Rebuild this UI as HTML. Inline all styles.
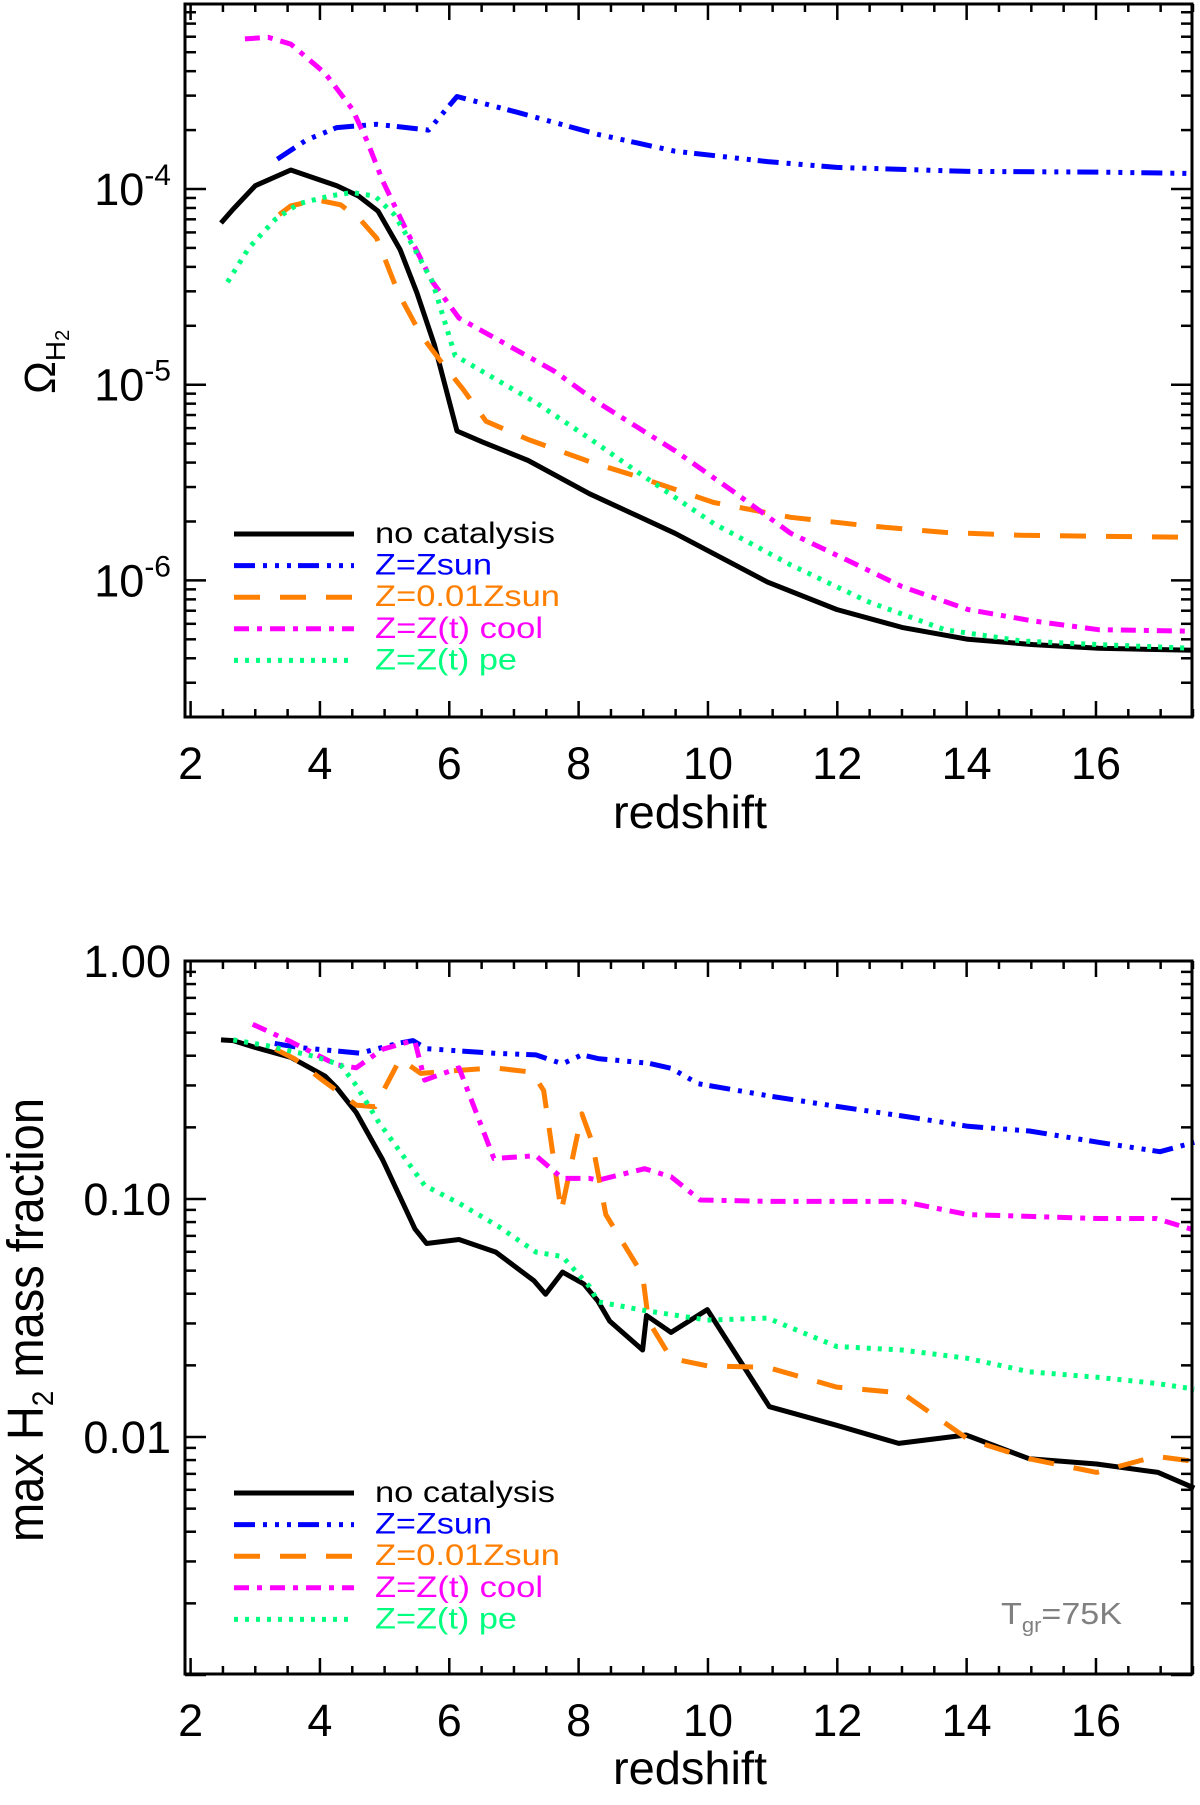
<!DOCTYPE html>
<html><head><meta charset="utf-8"><style>
html,body{margin:0;padding:0;background:#fff;}
svg{display:block;font-family:"Liberation Sans",sans-serif;}
</style></head><body>
<svg id="fig" width="1200" height="1805" viewBox="0 0 1200 1805" xmlns="http://www.w3.org/2000/svg">
<g id="top"></g>
<g id="bot"></g>
<text transform="translate(55,394) rotate(-90)" font-size="44">Ω<tspan font-size="28" dy="10">H</tspan><tspan font-size="20" dy="4">2</tspan></text>
<text transform="translate(43,1542) rotate(-90)" font-size="51" textLength="444" lengthAdjust="spacingAndGlyphs">max H<tspan font-size="30" dy="10">2</tspan><tspan dy="-10"> mass fraction</tspan></text>
<text x="690" y="828" font-size="46" text-anchor="middle" textLength="154" lengthAdjust="spacingAndGlyphs">redshift</text>
<text x="690" y="1784" font-size="46" text-anchor="middle" textLength="154" lengthAdjust="spacingAndGlyphs">redshift</text>
<text x="1001" y="1624" font-size="31" fill="#808080" textLength="121" lengthAdjust="spacingAndGlyphs">T<tspan font-size="20" dy="8">gr</tspan><tspan dy="-8">=75K</tspan></text>
</svg>
<script>
// ---- top panel data (Omega_H2 vs redshift) ----
const topNoCatZ = [2.47,2.66,3.0,3.55,4.26,4.6,4.9,5.24,5.5,5.77,6.12,6.51,7.22,8.17,9.49,10.92,11.99,13.0,14.02,15.03,16.04,17.5];
const topNoCatV = [6.7e-5,7.9e-5,1.04e-4,1.25e-4,1.04e-4,9.2e-5,7.7e-5,4.9e-5,2.95e-5,1.6e-5,5.8e-6,5.1e-6,4.1e-6,2.77e-6,1.74e-6,9.8e-7,7.1e-7,5.75e-7,5.0e-7,4.7e-7,4.5e-7,4.4e-7];
const topSunZ = [3.34,3.79,4.26,4.88,5.68,6.12,7.04,8.30,9.49,10.92,11.99,13.0,14.02,16.04,17.5];
const topSunV = [1.42e-4,1.78e-4,2.06e-4,2.14e-4,2.0e-4,2.97e-4,2.47e-4,1.9e-4,1.56e-4,1.38e-4,1.29e-4,1.26e-4,1.23e-4,1.22e-4,1.2e-4];
const topLowZ = [3.37,3.55,3.96,4.32,4.62,4.88,5.21,5.56,5.86,6.21,6.57,7.22,8.21,8.9,10.09,11.28,12.47,13.66,14.85,16.04,17.5];
const topLowV = [7.4e-5,8.2e-5,8.8e-5,8.3e-5,7.0e-5,5.6e-5,2.95e-5,1.8e-5,1.33e-5,9.5e-6,6.5e-6,5.25e-6,4.0e-6,3.4e-6,2.5e-6,2.1e-6,1.9e-6,1.76e-6,1.7e-6,1.68e-6,1.66e-6];
const topCoolZ = [2.84,3.2,3.55,4.08,4.5,4.73,4.97,5.33,5.74,6.15,6.75,7.63,8.30,9.49,10.39,11.28,12.11,13.0,14.02,15.03,16.04,17.5];
const topCoolV = [5.85e-4,5.96e-4,5.5e-4,3.9e-4,2.56e-4,1.76e-4,1.1e-4,6.2e-5,3.35e-5,2.19e-5,1.7e-5,1.17e-5,8.1e-6,4.6e-6,2.85e-6,1.74e-6,1.29e-6,9.3e-7,7.1e-7,6.2e-7,5.6e-7,5.5e-7];
const topPeZ = [2.57,2.9,3.31,3.67,4.14,4.5,4.85,5.15,5.44,5.74,6.09,6.51,7.34,8.21,8.9,10.09,11.28,12.47,13.66,14.85,16.04,17.5];
const topPeV = [3.34e-5,5.0e-5,7.0e-5,8.4e-5,9.2e-5,9.6e-5,9.2e-5,7.4e-5,5.1e-5,3.35e-5,1.41e-5,1.17e-5,8.1e-6,5.2e-6,3.6e-6,1.95e-6,1.2e-6,7.8e-7,5.6e-7,4.9e-7,4.7e-7,4.5e-7];
// ---- bottom panel data (max H2 mass fraction) ----
const botNoCatZ = [2.47,2.66,3.0,3.55,4.08,4.26,4.56,4.97,5.47,5.65,6.15,6.72,7.31,7.49,7.75,8.08,8.30,8.48,8.99,9.05,9.43,9.99,10.95,11.99,12.95,13.99,14.97,16.01,16.96,17.52];
const botNoCatV = [0.466,0.463,0.433,0.394,0.328,0.293,0.231,0.146,0.0748,0.065,0.0676,0.0598,0.0453,0.0398,0.0493,0.044,0.0372,0.0307,0.0232,0.0324,0.0275,0.0343,0.0134,0.0112,0.0094,0.0102,0.0081,0.0077,0.0071,0.0061];
const botSunZ = [3.3,3.67,3.96,4.62,5.21,5.44,5.65,6.69,7.34,7.75,8.05,8.30,9.08,9.43,9.85,10.98,11.99,13.07,14.02,14.97,16.04,16.99,17.52];
const botSunV = [0.45,0.433,0.426,0.41,0.451,0.463,0.428,0.41,0.403,0.37,0.403,0.389,0.372,0.354,0.305,0.27,0.245,0.222,0.202,0.193,0.173,0.158,0.173];
const botLowZ = [3.31,3.61,4.08,4.56,4.85,5.24,5.56,6.15,6.69,7.28,7.46,7.73,8.05,8.21,8.42,8.99,9.08,9.43,9.99,10.92,11.99,13.0,14.02,14.97,16.01,16.93,17.52];
const botLowV = [0.426,0.388,0.31,0.248,0.244,0.388,0.337,0.347,0.356,0.341,0.285,0.0885,0.228,0.173,0.086,0.048,0.0307,0.0214,0.0199,0.0196,0.0162,0.0153,0.0098,0.0081,0.0071,0.0083,0.0079];
const botCoolZ = [2.96,3.55,4.26,4.56,4.97,5.38,5.47,5.62,6.15,6.69,7.34,7.75,8.17,8.30,9.02,9.43,9.88,10.98,13.0,14.02,14.97,16.04,16.93,17.52];
const botCoolV = [0.542,0.458,0.366,0.356,0.426,0.458,0.458,0.316,0.356,0.148,0.152,0.122,0.122,0.12,0.134,0.124,0.099,0.0977,0.0977,0.086,0.0845,0.0828,0.0828,0.074];
const botPeZ = [2.66,3.2,3.9,4.32,4.56,4.91,5.27,5.62,6.15,6.75,7.34,7.75,8.17,8.30,9.02,9.99,10.92,11.99,13.0,14.02,14.97,16.04,16.93,17.52];
const botPeV = [0.466,0.44,0.398,0.366,0.30,0.21,0.154,0.114,0.096,0.077,0.0598,0.0573,0.0428,0.037,0.034,0.031,0.0316,0.024,0.0232,0.0214,0.0188,0.0178,0.0168,0.0159];
const xTicks = [2,4,6,8,10,12,14,16];
const legendLabels = ["no catalysis","Z=Zsun","Z=0.01Zsun","Z=Z(t) cool","Z=Z(t) pe"];

const NS = "http://www.w3.org/2000/svg";
const L = 185, R = 1192;
const X = z => 190.6 + (z - 2) * 64.67;
const styles = [
  {c:"#000000", d:"", w:5},
  {c:"#0000ff", d:"21 8 4 8 4 8 4 7", w:5},
  {c:"#ff7f00", d:"26 20", w:5},
  {c:"#ff00ff", d:"15 8 5 8", w:5},
  {c:"#00ff7f", d:"4 7", w:5}
];
const legendW = [180,117,185,168,142];
const slugs = ["no-catalysis","z-sun","z-001-sun","z-t-cool","z-t-pe"];

function mk(parent, tag, attrs){
  const e = document.createElementNS(NS, tag);
  for (const k in attrs) e.setAttribute(k, attrs[k]);
  parent.appendChild(e);
  return e;
}

function panel(g, top, bottom, Y, logMin, logMax, yLabels, series, legendY, prefix){
  series.forEach((s, i) => {
    const pts = s[0].map((z, j) => X(z).toFixed(1) + "," + Y(s[1][j]).toFixed(1)).join(" ");
    const p = mk(g, "polyline", {points: pts, fill: "none", stroke: styles[i].c, "stroke-width": styles[i].w, "stroke-linejoin": "round"});
    if (styles[i].d) p.setAttribute("stroke-dasharray", styles[i].d);
    
    
  });
  const fr = mk(g, "rect", {x: L, y: top, width: R - L, height: bottom - top, fill: "none", stroke: "#000", "stroke-width": 3});
  
  
  for (let z = 2; z <= 17.5; z += 0.5) {
    const x = X(z), major = (z % 2 === 0), len = major ? 16 : 8;
    const t1 = mk(g, "line", {x1: x, x2: x, y1: bottom, y2: bottom - len, stroke: "#000", "stroke-width": 2.5});
    
    
    const t2 = mk(g, "line", {x1: x, x2: x, y1: top, y2: top + len, stroke: "#000", "stroke-width": 2.5});
    
    
  }
  xTicks.forEach(z => {
    const t = mk(g, "text", {x: X(z), y: bottom + 62, "font-size": 45, "text-anchor": "middle"});
    t.textContent = z;
    
    
  });
  for (let k = Math.floor(logMin); k <= Math.ceil(logMax); k++) {
    for (let m = 1; m <= 9; m++) {
      const v = m * Math.pow(10, k), lv = Math.log10(v);
      if (lv < logMin || lv > logMax) continue;
      const y = Y(v), len = m === 1 ? 21 : 11;
      const a = mk(g, "line", {x1: L, x2: L + len, y1: y, y2: y, stroke: "#000", "stroke-width": 2.5});
      
      
      const b = mk(g, "line", {x1: R, x2: R - len, y1: y, y2: y, stroke: "#000", "stroke-width": 2.5});
      
      
    }
  }
  yLabels.forEach(l => {
    const t = mk(g, "text", {x: 171, y: Y(l.v) + 16, "font-size": 45, "text-anchor": "end"});
    
    
    if (l.exp) {
      t.textContent = "10";
      const s = mk(t, "tspan", {"font-size": 30, dy: -20});
      s.textContent = l.exp;
    } else t.textContent = l.text;
  });
  legendLabels.forEach((lab, i) => {
    const y = legendY + i * 31.6;
    const ln = mk(g, "line", {x1: 234, x2: 354, y1: y, y2: y, stroke: styles[i].c, "stroke-width": 5});
    if (styles[i].d) ln.setAttribute("stroke-dasharray", styles[i].d);
    
    
    const t = mk(g, "text", {x: 375, y: y + 9, "font-size": 30, fill: styles[i].c, textLength: legendW[i], lengthAdjust: "spacingAndGlyphs"});
    t.textContent = lab;
    
    
  });
}

const Ytop = v => 189 - (Math.log10(v) + 4) * 195.7;
const Ybot = v => 1199 - (Math.log10(v) + 1) * 238;
panel(document.getElementById("top"), 4, 717, Ytop, -6.70, -3.055,
  [{v:1e-4, exp:"-4"},{v:1e-5, exp:"-5"},{v:1e-6, exp:"-6"}],
  [[topNoCatZ, topNoCatV],[topSunZ, topSunV],[topLowZ, topLowV],[topCoolZ, topCoolV],[topPeZ, topPeV]],
  534, "top");
panel(document.getElementById("bot"), 961, 1674, Ybot, -3, 0,
  [{v:1, text:"1.00"},{v:0.1, text:"0.10"},{v:0.01, text:"0.01"}],
  [[botNoCatZ, botNoCatV],[botSunZ, botSunV],[botLowZ, botLowV],[botCoolZ, botCoolV],[botPeZ, botPeV]],
  1493, "bottom");
</script>
</body></html>
